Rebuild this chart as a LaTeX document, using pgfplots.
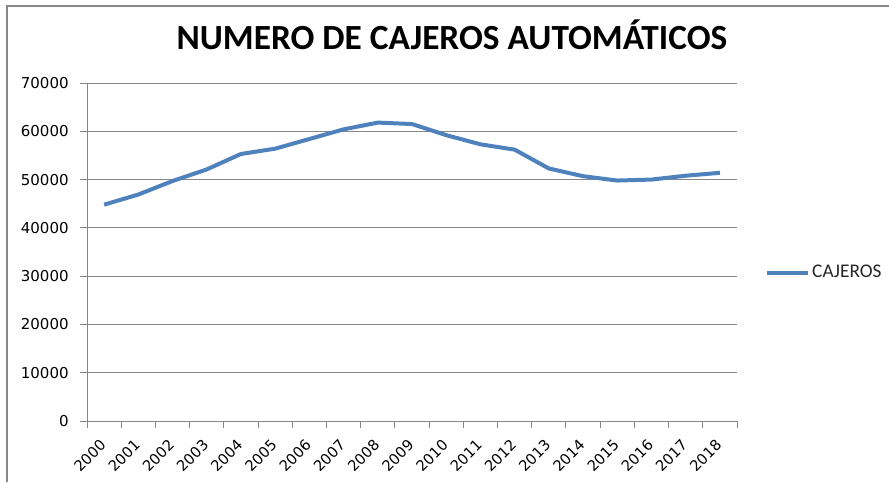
\documentclass[border=0pt]{standalone}
\usepackage{pgfplots}
\pgfplotsset{compat=1.18}
\usepackage{fontspec}
\setmainfont{Carlito}
\newfontfamily\tickfont{DejaVu Sans}
\definecolor{lineblue}{HTML}{4F81BD}
\definecolor{gridgray}{HTML}{878787}
\begin{document}
\begin{tikzpicture}
\path[use as bounding box] (0,0) rectangle (666.75pt,361.5pt);
\draw[gridgray, line width=0.9pt] (5.25pt,0) -- (5.25pt,357pt) -- (666.75pt,357pt);
\node[anchor=base, font=\fontsize{26.5}{30}\selectfont\bfseries] at (339pt,324pt) {NUMERO DE CAJEROS AUTOMÁTICOS};
\begin{axis}[
  at={(65.25pt,45.75pt)}, anchor=south west,
  scale only axis, width=487.5pt, height=253.5pt,
  xmin=0, xmax=19, ymin=0, ymax=70000,
  axis lines=left, axis line style={-, gridgray, line width=0.75pt},
  xtick={0.5,1.5,...,18.5},
  xticklabels={2000,2001,2002,2003,2004,2005,2006,2007,2008,2009,2010,2011,2012,2013,2014,2015,2016,2017,2018},
  xtick style={draw=none},
  extra x ticks={0,1,...,19}, extra x tick labels={},
  extra x tick style={grid=none, xtick style={draw=gridgray, line width=0.75pt}},
  ytick={0,10000,...,70000},
  ymajorgrids, grid style={gridgray, line width=0.75pt},
  tick align=outside, major tick length=5.25pt,
  ytick style={gridgray, line width=0.75pt},
  xticklabel style={yshift=-10pt, rotate=45, anchor=east, inner sep=1pt, font=\fontsize{11}{12}\selectfont\tickfont, text=black},
  yticklabel style={xshift=-5pt, font=\fontsize{11.25}{13}\selectfont\tickfont, text=black},
  /pgf/number format/.cd, 1000 sep={}, assume math mode=true,
  /pgfplots/.cd,
  scaled y ticks=false,
  clip=false,
  legend style={draw=none, fill=none, at={(1.042,0.4388)}, anchor=west, inner sep=0pt,
    font=\fontsize{14.5}{16}\selectfont, text=black!85},
  legend image code/.code={\draw[#1] (0pt,0pt) -- (30.75pt,0pt);},
]
\addplot[lineblue, line width=3pt, line join=round] coordinates {
(0.5,44800) (1.5,46900) (2.5,49700) (3.5,52100) (4.5,55300) (5.5,56400)
(6.5,58400) (7.5,60400) (8.5,61800) (9.5,61500) (10.5,59200) (11.5,57300)
(12.5,56200) (13.5,52300) (14.5,50700) (15.5,49800) (16.5,50000) (17.5,50800) (18.5,51400)
};
\addlegendentry{CAJEROS}
\end{axis}
\end{tikzpicture}
\end{document}
